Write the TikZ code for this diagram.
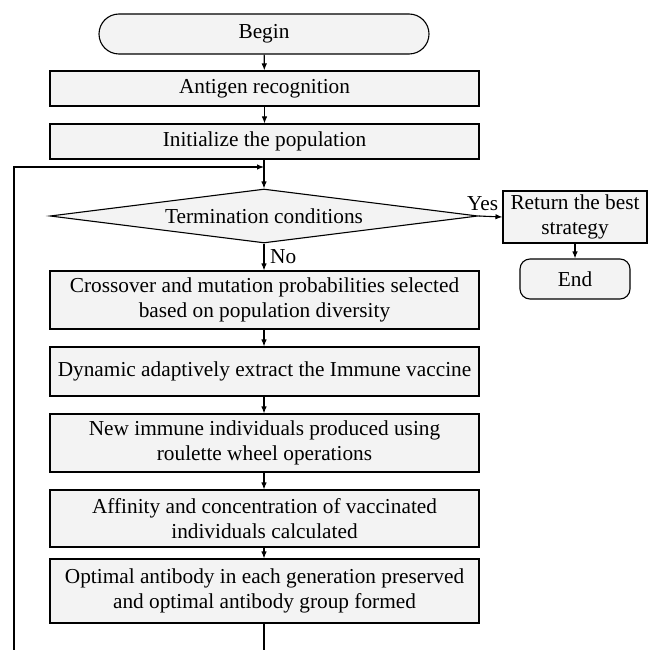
\documentclass[tikz,border=0pt]{standalone}
\usepackage{fontspec}
\setmainfont{Liberation Serif}
\usetikzlibrary{positioning,calc,arrows.meta,shapes.geometric}
\definecolor{boxgray}{HTML}{F3F3F3}
\tikzset{
  line/.style={line width=1.1pt},
  arrow/.style={line,-{Latex[length=7pt,width=5.5pt]}},
  process/.style={rectangle,draw,line width=1.1pt,fill=boxgray,minimum width=429pt,inner sep=1pt,align=center,
                  font=\fontsize{21.3}{25}\selectfont},
  terminal/.style={rectangle,rounded corners=20pt,draw,line width=1.1pt,fill=boxgray,minimum height=40pt,inner sep=1pt,
                   font=\fontsize{21.3}{25}\selectfont},
  % the test: a flat diamond spanning the width of the boxes
  decision/.style={diamond,shape aspect=8,draw,line width=1.1pt,fill=boxgray,minimum width=428pt,minimum height=54pt,
                   inner sep=0pt,font=\fontsize{21.3}{25}\selectfont},
  lab/.style={font=\fontsize{21.3}{25}\selectfont,inner sep=0pt},
}
\begin{document}
\begin{tikzpicture}[x=1pt,y=-1pt]
  \useasboundingbox (0,0) rectangle (650,650);
  % main column
  \node[terminal,minimum width=330pt] (begin) at (264,34) {Begin};
  \node[process,minimum height=35pt] (antigen) at (264.5,88.5) {Antigen recognition};
  \node[process,minimum height=35pt] (init) at (264.5,141.5) {Initialize the population};
  \node[decision] (term) at (264,216) {Termination conditions};
  \node[process,minimum height=58pt] (cross) at (264.5,300) {Crossover and mutation probabilities selected\\based on population diversity};
  \node[process,minimum height=49pt] (vacc) at (264.5,371.5) {Dynamic adaptively extract the Immune vaccine};
  \node[process,minimum height=58pt] (roul) at (264.5,443) {New immune individuals produced using\\roulette wheel operations};
  \node[process,minimum height=57pt] (affin) at (264.5,518.5) {Affinity and concentration of vaccinated\\individuals calculated};
  \node[process,minimum height=64pt] (optim) at (264.5,591) {Optimal antibody in each generation preserved\\and optimal antibody group formed};
  % exit branch
  \node[process,minimum width=144pt,minimum height=52pt,inner sep=1pt] (best) at (575,217) {Return the best\\strategy};
  \node[terminal,minimum width=110pt,rounded corners=10pt] (end) at (575,279) {End};
  \node[lab,anchor=south west] (yes) at (467,211) {Yes};
  \node[lab,anchor=west] (no) at (270,257) {No};
  % loop back to the test
  \coordinate (join) at (264,167);
  \coordinate (corner) at (14,167);
  \coordinate (loopend) at (14,650);
  \coordinate (optend) at (264,650);
  \draw[arrow] (begin) -- (antigen);
  \draw[arrow] (antigen) -- (init);
  \draw[arrow] (init.south -| term.north) -- (term.north);
  \draw[arrow] (term.south) -- (term.south |- cross.north);
  \draw[arrow] (term.east) -- (best.west);
  \draw[arrow] (best) -- (end);
  \draw[arrow] (cross.south -| term.south) -- (term.south |- vacc.north);
  \draw[arrow] (vacc.south -| term.south) -- (term.south |- roul.north);
  \draw[arrow] (roul.south -| term.south) -- (term.south |- affin.north);
  \draw[arrow] (affin.south -| term.south) -- (term.south |- optim.north);
  \draw[line] (optim.south -| term.south) -- (optend);
  \draw[arrow] (loopend) -- (corner) -- (join);
\end{tikzpicture}
\end{document}
